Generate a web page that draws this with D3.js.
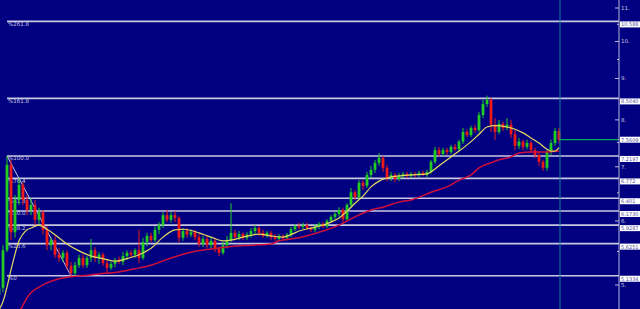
<!DOCTYPE html>
<html>
<head>
<meta charset="utf-8">
<script src="https://cdn.jsdelivr.net/npm/d3@7"></script>
<style>
  html, body { margin: 0; padding: 0; background: #000080; overflow: hidden; }
  svg { display: block; }
</style>
</head>
<body>
<svg id="chart" width="640" height="309"></svg>
<script>
// daily candles (prices)
let opens = [
  4.86, 4.96, 5.52, 7.04, 5.81, 6.37, 6.65, 6.37, 6.19, 6.28,
  6.02, 6.15, 5.85, 5.60, 5.68, 5.45, 5.40, 5.48, 5.28, 5.17,
  5.29, 5.40, 5.29, 5.40, 5.52, 5.40, 5.45, 5.32, 5.25, 5.31,
  5.37, 5.34, 5.43, 5.48, 5.45, 5.52, 5.40, 5.65, 5.75, 5.68,
  5.85, 5.93, 6.10, 6.02, 6.10, 6.05, 5.72, 5.83, 5.77, 5.81,
  5.73, 5.62, 5.70, 5.60, 5.67, 5.54, 5.48, 5.60, 5.68, 5.80,
  5.73, 5.78, 5.72, 5.77, 5.83, 5.88, 5.80, 5.75, 5.80, 5.73,
  5.70, 5.75, 5.72, 5.77, 5.86, 5.91, 5.90, 5.93, 5.88, 5.85,
  5.91, 5.95, 5.91, 6.00, 6.07, 6.12, 6.19, 6.03, 6.28, 6.51,
  6.42, 6.69, 6.63, 6.84, 6.94, 7.08, 7.18, 6.98, 6.78, 6.84,
  6.76, 6.82, 6.86, 6.82, 6.86, 6.84, 6.88, 6.84, 6.90, 7.10,
  7.34, 7.26, 7.34, 7.30, 7.41, 7.36, 7.52, 7.73, 7.66, 7.82,
  7.77, 8.11, 8.37, 8.47, 7.89, 7.73, 7.91, 7.82, 7.89, 7.68,
  7.43, 7.52, 7.41, 7.49, 7.34, 7.24, 7.10, 6.98, 7.30, 7.49,
  7.75
];
let highs = [
  5.00, 5.60, 7.22, 7.14, 6.46, 6.78, 6.70, 6.46, 6.40, 6.37,
  6.23, 6.19, 5.91, 5.72, 5.75, 5.55, 5.52, 5.52, 5.34, 5.34,
  5.45, 5.45, 5.43, 5.70, 5.57, 5.49, 5.48, 5.37, 5.34, 5.40,
  5.42, 5.49, 5.52, 5.52, 5.55, 5.85, 5.72, 5.80, 5.80, 5.91,
  5.98, 6.15, 6.19, 6.15, 6.17, 6.08, 5.88, 5.88, 5.86, 5.85,
  5.78, 5.75, 5.75, 5.72, 5.72, 5.58, 5.65, 5.75, 6.31, 5.85,
  5.83, 5.81, 5.81, 5.88, 5.93, 5.91, 5.85, 5.83, 5.83, 5.78,
  5.78, 5.78, 5.80, 5.90, 5.95, 5.97, 5.97, 5.97, 5.91, 5.95,
  5.98, 5.98, 6.03, 6.10, 6.15, 6.24, 6.23, 6.31, 6.59, 6.55,
  6.74, 6.74, 6.90, 7.02, 7.14, 7.28, 7.22, 7.04, 6.90, 6.88,
  6.88, 6.90, 6.90, 6.90, 6.90, 6.92, 6.92, 6.94, 7.14, 7.41,
  7.41, 7.39, 7.39, 7.45, 7.47, 7.56, 7.82, 7.79, 7.87, 7.89,
  8.18, 8.47, 8.57, 8.52, 8.04, 8.00, 7.96, 8.04, 8.00, 7.77,
  7.60, 7.56, 7.56, 7.54, 7.39, 7.30, 7.14, 7.34, 7.56, 7.82,
  7.82
];
let lows = [
  4.79, 4.90, 5.49, 5.68, 5.72, 6.28, 6.28, 6.10, 6.10, 5.93,
  5.95, 5.77, 5.52, 5.52, 5.40, 5.34, 5.34, 5.22, 5.13, 5.13,
  5.25, 5.25, 5.25, 5.34, 5.34, 5.31, 5.28, 5.17, 5.22, 5.26,
  5.31, 5.29, 5.37, 5.40, 5.40, 5.32, 5.37, 5.58, 5.65, 5.65,
  5.78, 5.88, 5.98, 5.97, 5.98, 5.65, 5.67, 5.72, 5.73, 5.68,
  5.57, 5.57, 5.55, 5.55, 5.49, 5.43, 5.45, 5.55, 5.65, 5.68,
  5.68, 5.68, 5.68, 5.72, 5.78, 5.75, 5.72, 5.72, 5.68, 5.67,
  5.67, 5.67, 5.68, 5.73, 5.83, 5.86, 5.86, 5.85, 5.81, 5.81,
  5.86, 5.88, 5.88, 5.97, 6.02, 6.08, 5.98, 6.00, 6.23, 6.37,
  6.39, 6.55, 6.59, 6.78, 6.88, 7.02, 6.90, 6.72, 6.72, 6.70,
  6.72, 6.78, 6.78, 6.78, 6.80, 6.80, 6.82, 6.80, 6.86, 7.06,
  7.20, 7.22, 7.24, 7.26, 7.32, 7.32, 7.47, 7.62, 7.62, 7.71,
  7.73, 8.04, 8.30, 7.73, 7.56, 7.68, 7.75, 7.77, 7.60, 7.34,
  7.36, 7.34, 7.36, 7.28, 7.18, 7.02, 6.92, 6.92, 7.24, 7.43,
  7.49
];
let closes = [
  4.96, 5.52, 7.04, 5.81, 6.37, 6.65, 6.37, 6.19, 6.28, 6.02,
  6.15, 5.85, 5.60, 5.68, 5.45, 5.40, 5.48, 5.28, 5.17, 5.29,
  5.40, 5.29, 5.40, 5.52, 5.40, 5.45, 5.32, 5.25, 5.31, 5.37,
  5.34, 5.43, 5.48, 5.45, 5.52, 5.40, 5.65, 5.75, 5.68, 5.85,
  5.93, 6.10, 6.02, 6.10, 6.05, 5.72, 5.83, 5.77, 5.81, 5.73,
  5.62, 5.70, 5.60, 5.67, 5.54, 5.48, 5.60, 5.68, 5.80, 5.73,
  5.78, 5.72, 5.77, 5.83, 5.88, 5.80, 5.75, 5.80, 5.73, 5.70,
  5.75, 5.72, 5.77, 5.86, 5.91, 5.90, 5.93, 5.88, 5.85, 5.91,
  5.95, 5.91, 6.00, 6.07, 6.12, 6.19, 6.03, 6.28, 6.51, 6.42,
  6.69, 6.63, 6.84, 6.94, 7.08, 7.18, 6.98, 6.78, 6.84, 6.76,
  6.82, 6.86, 6.82, 6.86, 6.84, 6.88, 6.84, 6.90, 7.10, 7.34,
  7.26, 7.34, 7.30, 7.41, 7.36, 7.52, 7.73, 7.66, 7.82, 7.77,
  8.11, 8.37, 8.47, 7.89, 7.73, 7.91, 7.82, 7.89, 7.68, 7.43,
  7.52, 7.41, 7.49, 7.34, 7.24, 7.10, 6.98, 7.30, 7.49, 7.75,
  7.56
];

// moving averages, read at some of the candles
let yellowIdx = [0, 1, 2, 3, 4, 5, 6, 7, 8, 10, 12, 14, 17, 20, 23, 26, 29, 32, 35, 38,
  41, 44, 46, 50, 53, 56, 58, 61, 65, 68, 71, 73, 75, 78, 80, 83, 85, 87, 89, 91,
  93, 95, 97, 100, 103, 107, 108, 110, 113, 115, 118, 120, 122, 124, 127, 129, 131, 133, 135, 137,
  138, 139, 140];
let yellowMA = [4.66, 4.77, 4.97, 5.22, 5.46, 5.67, 5.78, 5.85, 5.88, 5.93, 5.86, 5.77, 5.62, 5.51, 5.43, 5.39, 5.35, 5.39, 5.45, 5.55,
  5.73, 5.85, 5.86, 5.80, 5.73, 5.67, 5.68, 5.73, 5.78, 5.75, 5.73, 5.77, 5.83, 5.88, 5.91, 5.98, 6.05, 6.17, 6.31, 6.44,
  6.61, 6.72, 6.78, 6.82, 6.84, 6.86, 6.90, 7.02, 7.20, 7.32, 7.52, 7.68, 7.84, 7.87, 7.84, 7.79, 7.71, 7.60, 7.49, 7.36,
  7.32, 7.32, 7.39];
let redIdx = [5, 6, 7, 8, 10, 12, 15, 18, 20, 25, 30, 35, 38, 43, 48, 53, 58, 63, 68, 70,
  75, 80, 85, 89, 93, 96, 100, 103, 108, 113, 115, 118, 120, 123, 125, 128, 130, 133, 136, 140];
let redMA = [4.63, 4.72, 4.82, 4.89, 4.97, 5.03, 5.09, 5.12, 5.13, 5.16, 5.19, 5.25, 5.29, 5.40, 5.49, 5.54, 5.58, 5.60, 5.62, 5.67,
  5.72, 5.81, 5.93, 6.07, 6.19, 6.24, 6.33, 6.37, 6.51, 6.65, 6.74, 6.84, 6.98, 7.08, 7.14, 7.20, 7.28, 7.30, 7.30, 7.32];

// fibonacci levels (swing high at candle 2, low at candle 18)
let fibNames = ["%0", "%23.6", "%38.2", "%50.0", "%61.8", "%76.4", "%100.0", "%161.8", "%261.8"];
let fibPrices = [5.1334, 5.6251, 5.9287, 6.1730, 6.401, 6.772, 7.2197, 8.5040, 10.588];
let fibText = ["5.1334", "5.6251", "5.9287", "6.1730", "6.401", "6.772", "7.2197", "8.5040", "10.588"];
let swingHigh = 2, swingLow = 18;

let axisTicks = [5, 6, 7, 8, 9, 10, 11];
let axisMinor = [5.5, 6.5, 7.5, 8.5, 9.5, 10.5];
let lastPrice = 7.5609;

const W = 640, H = 309, axisX = 619, cursorX = 560;

let svg = d3.select("#chart");
svg.append("rect").attr("width", W).attr("height", H).attr("fill", "#000080");

let x = d3.scaleLinear().domain([0, closes.length - 1]).range([-1, 559]);
let y = d3.scaleLog().domain([5, 11]).range([285, 8]);

svg.append("clipPath").attr("id", "plot")
  .append("rect").attr("width", axisX).attr("height", H);

let plot = svg.append("g").attr("clip-path", "url(#plot)");

// fib lines
plot.selectAll(".fib")
  .data(fibPrices)
  .enter().append("line")
  .attr("x1", x(swingHigh)).attr("x2", axisX)
  .attr("y1", d => y(d)).attr("y2", d => y(d))
  .attr("stroke", "#c8c8e0").attr("stroke-width", 1.6);

plot.append("line")
  .attr("x1", x(swingHigh)).attr("y1", y(fibPrices[6]))
  .attr("x2", x(swingLow)).attr("y2", y(fibPrices[0]))
  .attr("stroke", "#c8c8e0").attr("stroke-width", 1);

plot.selectAll(".fibName")
  .data(fibNames)
  .enter().append("text")
  .attr("x", x(swingHigh) + 1)
  .attr("y", (d, i) => y(fibPrices[i]) + 4.5)
  .attr("font-family", "DejaVu Sans, sans-serif")
  .attr("font-size", 5.5)
  .attr("fill", "#c8c8e0")
  .text(d => d);

// candles
let candles = d3.range(closes.length).map(i => ({
  i: i, o: opens[i], h: highs[i], l: lows[i], c: closes[i]
}));
let green = "#22cc22", red = "#ee1a1a";

let cg = plot.selectAll(".candle")
  .data(candles)
  .enter().append("g");

cg.append("line")
  .attr("x1", d => x(d.i)).attr("x2", d => x(d.i))
  .attr("y1", d => y(d.h)).attr("y2", d => y(d.l))
  .attr("stroke", d => d.c >= d.o ? green : red)
  .attr("stroke-width", 1);

cg.append("rect")
  .attr("x", d => x(d.i) - 1.4)
  .attr("width", 2.8)
  .attr("y", d => y(Math.max(d.o, d.c)))
  .attr("height", d => Math.max(1, Math.abs(y(d.o) - y(d.c))))
  .attr("fill", d => d.c >= d.o ? green : red);

// moving averages
let maLine = d3.line()
  .x(d => x(d[0]))
  .y(d => y(d[1]))
  .curve(d3.curveMonotoneX);

plot.append("path")
  .attr("d", maLine(d3.zip(redIdx, redMA)))
  .attr("fill", "none").attr("stroke", "#d0103c").attr("stroke-width", 1.5);

plot.append("path")
  .attr("d", maLine(d3.zip(yellowIdx, yellowMA)))
  .attr("fill", "none").attr("stroke", "#e4d860").attr("stroke-width", 1.2);

// cursor and last price
svg.append("line")
  .attr("x1", cursorX).attr("x2", cursorX).attr("y1", 0).attr("y2", H)
  .attr("stroke", "#1a8098").attr("stroke-width", 1);

svg.append("line")
  .attr("x1", cursorX).attr("x2", axisX)
  .attr("y1", y(lastPrice)).attr("y2", y(lastPrice))
  .attr("stroke", "#00b050").attr("stroke-width", 1.2);

// price axis
svg.append("line")
  .attr("x1", axisX).attr("x2", axisX).attr("y1", 0).attr("y2", H)
  .attr("stroke", "#b8b8d8").attr("stroke-width", 1);

svg.selectAll(".tick")
  .data(axisTicks)
  .enter().append("line")
  .attr("x1", axisX - 4).attr("x2", axisX)
  .attr("y1", d => y(d)).attr("y2", d => y(d))
  .attr("stroke", "#b8b8d8");

svg.selectAll(".minor")
  .data(axisMinor)
  .enter().append("line")
  .attr("x1", axisX - 2).attr("x2", axisX)
  .attr("y1", d => y(d)).attr("y2", d => y(d))
  .attr("stroke", "#b8b8d8");

svg.selectAll(".tickLabel")
  .data(axisTicks)
  .enter().append("text")
  .attr("x", axisX + 2)
  .attr("y", d => y(d) + 2)
  .attr("font-family", "DejaVu Sans, sans-serif")
  .attr("font-size", 5.5)
  .attr("fill", "#c8c8e0")
  .text(d => d + ".");

// level boxes on the axis
let boxes = fibPrices.map((p, i) => ({ top: y(p), label: fibText[i] }));
boxes.push({ top: y(lastPrice) - 3, label: lastPrice.toFixed(4) });

let bg = svg.selectAll(".box")
  .data(boxes)
  .enter().append("g");

bg.append("rect")
  .attr("x", axisX + 1).attr("y", d => d.top)
  .attr("width", W - axisX - 1).attr("height", 6)
  .attr("fill", "#ffffff");

bg.append("text")
  .attr("x", axisX + 2)
  .attr("y", d => d.top + 5)
  .attr("font-family", "DejaVu Sans, sans-serif")
  .attr("font-size", 5)
  .attr("fill", "#5050a0")
  .text(d => d.label);
</script>
</body>
</html>
